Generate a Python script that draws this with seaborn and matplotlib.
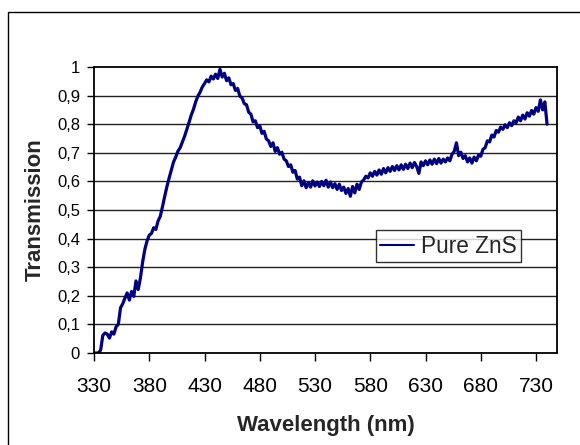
import numpy as np
import pandas as pd
import matplotlib
matplotlib.use("Agg")
import matplotlib.pyplot as plt
from matplotlib.patches import Rectangle
from matplotlib.ticker import FuncFormatter
import seaborn as sns

# Transmission spectrum of a pure ZnS film, sampled every 2 nm (330-740 nm)
wavelength = np.arange(330, 741, 2)
transmission = [
    0.000, 0.000, 0.000, 0.010, 0.062, 0.070, 0.066, 0.052, 0.074, 0.066,
    0.092, 0.100, 0.158, 0.172, 0.192, 0.210, 0.185, 0.215, 0.198, 0.252,
    0.222, 0.262, 0.318, 0.362, 0.392, 0.412, 0.418, 0.438, 0.432, 0.462,
    0.478, 0.512, 0.548, 0.582, 0.612, 0.640, 0.668, 0.686, 0.706, 0.718,
    0.738, 0.758, 0.782, 0.806, 0.832, 0.852, 0.878, 0.898, 0.912, 0.930,
    0.942, 0.955, 0.948, 0.968, 0.958, 0.975, 0.960, 0.992, 0.965, 0.978,
    0.952, 0.962, 0.938, 0.942, 0.918, 0.925, 0.898, 0.892, 0.872, 0.868,
    0.842, 0.835, 0.808, 0.812, 0.788, 0.795, 0.768, 0.775, 0.748, 0.742,
    0.722, 0.735, 0.705, 0.718, 0.695, 0.702, 0.678, 0.672, 0.652, 0.658,
    0.632, 0.638, 0.608, 0.615, 0.585, 0.602, 0.578, 0.596, 0.580, 0.602,
    0.584, 0.598, 0.582, 0.600, 0.585, 0.604, 0.580, 0.598, 0.578, 0.592,
    0.572, 0.590, 0.568, 0.580, 0.558, 0.575, 0.548, 0.582, 0.560, 0.590,
    0.572, 0.598, 0.605, 0.618, 0.612, 0.630, 0.618, 0.635, 0.622, 0.640,
    0.625, 0.645, 0.630, 0.648, 0.635, 0.652, 0.638, 0.655, 0.640, 0.658,
    0.642, 0.660, 0.645, 0.664, 0.648, 0.666, 0.652, 0.628, 0.668, 0.655,
    0.672, 0.658, 0.675, 0.660, 0.678, 0.662, 0.680, 0.664, 0.678, 0.668,
    0.682, 0.672, 0.695, 0.705, 0.735, 0.690, 0.702, 0.680, 0.690, 0.668,
    0.682, 0.664, 0.685, 0.672, 0.692, 0.688, 0.712, 0.718, 0.742, 0.738,
    0.762, 0.755, 0.778, 0.772, 0.790, 0.782, 0.798, 0.788, 0.805, 0.795,
    0.812, 0.805, 0.825, 0.812, 0.832, 0.818, 0.840, 0.828, 0.848, 0.835,
    0.858, 0.845, 0.885, 0.850, 0.878, 0.800,
]
series_name = "Pure ZnS"
x_ticks = [330, 380, 430, 480, 530, 580, 630, 680, 730]
y_ticks = [0.0, 0.1, 0.2, 0.3, 0.4, 0.5, 0.6, 0.7, 0.8, 0.9, 1.0]

df = pd.DataFrame({"Wavelength": wavelength, "Transmission": transmission})

sns.set_style("white")
plt.rcParams["font.family"] = ["Liberation Sans", "DejaVu Sans"]

W, H = 580, 445
fig = plt.figure(figsize=(W / 100, H / 100), dpi=100)
ax = fig.add_axes([94 / W, 1 - 353 / H, 463 / W, 286 / H])

# chart frame (runs off the right and bottom edges)
fig.patches.append(Rectangle((8 / W, -0.1), 1.2, 1.1 - 12 / H,
                             transform=fig.transFigure, fill=False,
                             edgecolor="black", linewidth=1.0))

for yv in y_ticks[1:-1]:
    ax.axhline(yv, color="#222222", linewidth=1.0, zorder=0)

sns.lineplot(data=df, x="Wavelength", y="Transmission", ax=ax,
             color="#000080", linewidth=2.3, label=series_name)

ax.set_xlim(330, 749)
ax.set_ylim(0, 1)
ax.set_xticks(x_ticks)
ax.set_yticks(y_ticks)
ax.yaxis.set_major_formatter(FuncFormatter(
    lambda v, p: "0" if v == 0 else ("1" if v == 1 else f"{v:.1f}".replace(".", ","))))
ax.tick_params(axis="x", direction="out", length=6, width=1, labelsize=15, pad=11,
               bottom=True, colors="black")
ax.tick_params(axis="y", direction="out", length=5, width=1, labelsize=12, pad=5,
               left=True, colors="black")
for s in ax.spines.values():
    s.set_color("black")
    s.set_linewidth(1.3)

ax.set_xlabel("Wavelength (nm)", fontsize=16, fontweight="bold", labelpad=14)
ax.set_ylabel("Transmission", fontsize=16, fontweight="bold", labelpad=8)

leg = ax.legend(loc="upper left", bbox_to_anchor=(0.608, 0.430), borderaxespad=0,
                frameon=True, fancybox=False, shadow=False, fontsize=16.3,
                handlelength=1.5, handletextpad=0.3, borderpad=0.2)
leg.get_frame().set_edgecolor("black")
leg.get_frame().set_linewidth(1.0)
for h in leg.get_lines():
    h.set_linewidth(1.5)

fig.savefig("out.png", dpi=100)
